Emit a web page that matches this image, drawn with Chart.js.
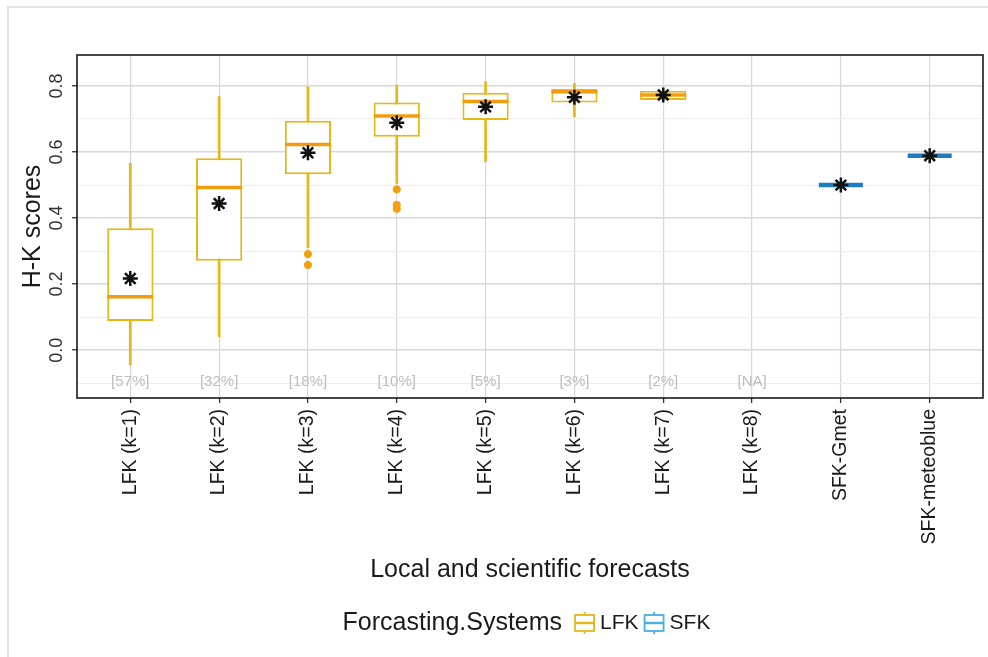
<!DOCTYPE html>
<html>
<head>
<meta charset="utf-8">
<title>H-K scores</title>
<script src="https://cdn.jsdelivr.net/npm/chart.js@4.4.1/dist/chart.umd.min.js"></script>
<style>
  html, body { margin: 0; padding: 0; background: #fff; }
  #wrap { position: relative; width: 988px; height: 657px; }
  #frame { position: absolute; left: 7px; top: 6px; right: 0; bottom: 0;
           border-left: 2px solid #e3e3e3; border-top: 2px solid #e3e3e3; pointer-events: none; }
  canvas { position: absolute; left: 0; top: 0; }
</style>
</head>
<body>
<div id="wrap">
  <canvas id="chart" width="988" height="657"></canvas>
  <div id="frame"></div>
</div>
<script>
const categories = ['LFK (k=1)', 'LFK (k=2)', 'LFK (k=3)', 'LFK (k=4)', 'LFK (k=5)',
                    'LFK (k=6)', 'LFK (k=7)', 'LFK (k=8)', 'SFK-Gmet', 'SFK-meteoblue'];
const systems = ['LFK', 'LFK', 'LFK', 'LFK', 'LFK', 'LFK', 'LFK', 'LFK', 'SFK', 'SFK'];

// boxplot stats per forecast (null = no data)
const whiskerLow  = [-0.045, 0.040, 0.310, 0.505, 0.571, 0.707, 0.758, null, 0.500, 0.589];
const q1          = [ 0.088, 0.271, 0.533, 0.646, 0.697, 0.750, 0.758, null, 0.500, 0.589];
const median      = [ 0.162, 0.493, 0.623, 0.709, 0.753, 0.783, 0.773, null, 0.500, 0.589];
const q3          = [ 0.369, 0.581, 0.695, 0.750, 0.780, 0.791, 0.786, null, 0.500, 0.589];
const whiskerHigh = [ 0.566, 0.768, 0.798, 0.803, 0.813, 0.808, 0.786, null, 0.500, 0.589];
const meanScore   = [ 0.217, 0.444, 0.598, 0.689, 0.737, 0.766, 0.773, null, 0.500, 0.589];

const outlierIndex = [2, 2, 3, 3, 3];
const outlierScore = [0.291, 0.258, 0.487, 0.440, 0.428];

const shareLabels = ['[57%]', '[32%]', '[18%]', '[10%]', '[5%]', '[3%]', '[2%]', '[NA]', '', ''];
const shareLevel = -0.095;

const yMajor = [0, 0.2, 0.4, 0.6, 0.8];
const yMinor = [-0.1, 0.1, 0.3, 0.5, 0.7];
const yTickLabels = ['0.0', '0.2', '0.4', '0.6', '0.8'];

const colors = {
  LFK: { box: '#E7B718', median: '#F39C0C', point: '#F2A00E' },
  SFK: { box: '#49AEE0', median: '#1C7CBD', point: '#1C7CBD' }
};
const FONT = 'Liberation Sans, Arial, Helvetica, sans-serif';

function rows(fn) {
  const out = [];
  categories.forEach((c, i) => {
    if (median[i] !== null) out.push(fn(i));
  });
  return out;
}
const sysOf = i => colors[systems[i]];

const whiskerData = rows(i => ({ x: i, y: [whiskerLow[i], whiskerHigh[i]] }));
const boxData = rows(i => ({ x: i, y: [q1[i], q3[i]] }));
const medianData = rows(i => ({ x: i, y: median[i] }));
const meanData = rows(i => ({ x: i, y: meanScore[i] }));
const okIdx = rows(i => i);
const outlierData = outlierIndex.map((c, k) => ({ x: c, y: outlierScore[k] }));

// y tick labels, share labels, panel border and legend
const extras = {
  id: 'extras',
  afterDatasetsDraw(chart) {
    const { ctx, scales } = chart;
    ctx.save();
    ctx.font = '15px ' + FONT;
    ctx.fillStyle = '#bdbdbd';
    ctx.textAlign = 'center';
    ctx.textBaseline = 'middle';
    shareLabels.forEach((t, i) => {
      if (t) ctx.fillText(t, scales.x.getPixelForValue(i), scales.y.getPixelForValue(shareLevel));
    });
    ctx.restore();
  },
  afterDraw(chart) {
    const { ctx, chartArea, scales } = chart;
    ctx.save();
    ctx.strokeStyle = '#1a1a1a';
    ctx.lineWidth = 1.6;
    ctx.strokeRect(chartArea.left, chartArea.top, chartArea.right - chartArea.left, chartArea.bottom - chartArea.top);

    ctx.fillStyle = '#333';
    ctx.font = '18px ' + FONT;
    ctx.textAlign = 'center';
    ctx.textBaseline = 'alphabetic';
    yMajor.forEach((v, k) => {
      ctx.save();
      ctx.translate(chartArea.left - 15, scales.y.getPixelForValue(v));
      ctx.rotate(-Math.PI / 2);
      ctx.fillText(yTickLabels[k], 0, 0);
      ctx.restore();
    });

    // legend
    const cy = 623;
    ctx.textBaseline = 'middle';
    ctx.textAlign = 'left';
    ctx.fillStyle = '#1a1a1a';
    const title = 'Forcasting.Systems';
    ctx.font = '25px ' + FONT;
    const tw = ctx.measureText(title).width;
    ctx.font = '21px ' + FONT;
    const names = ['LFK', 'SFK'];
    const nw = names.map(n => ctx.measureText(n).width);
    const keyW = 19, gap = 6;
    const total = tw + 12 + (keyW + gap) * 2 + nw[0] + gap + nw[1];
    let x = (chartArea.left + chartArea.right) / 2 - total / 2 - 4;
    ctx.font = '25px ' + FONT;
    ctx.fillText(title, x, cy);
    x += tw + 13;
    ctx.font = '21px ' + FONT;
    names.forEach((n, k) => {
      const c = colors[n];
      ctx.strokeStyle = c.box;
      ctx.lineWidth = 1.8;
      ctx.beginPath();
      ctx.moveTo(x + keyW / 2, cy - 11); ctx.lineTo(x + keyW / 2, cy - 8);
      ctx.moveTo(x + keyW / 2, cy + 8); ctx.lineTo(x + keyW / 2, cy + 11);
      ctx.stroke();
      ctx.fillStyle = '#fff';
      ctx.fillRect(x, cy - 8, keyW, 16);
      ctx.strokeRect(x, cy - 8, keyW, 16);
      ctx.lineWidth = 2.4;
      ctx.beginPath();
      ctx.moveTo(x, cy); ctx.lineTo(x + keyW, cy);
      ctx.stroke();
      ctx.fillStyle = '#1a1a1a';
      ctx.fillText(n, x + keyW + gap, cy);
      x += keyW + gap + nw[k] + gap;
    });
    ctx.restore();
  }
};

new Chart(document.getElementById('chart'), {
  type: 'bar',
  data: {
    datasets: [
      {
        label: 'whiskers',
        data: whiskerData,
        backgroundColor: okIdx.map(i => sysOf(i).box),
        borderWidth: 0,
        barThickness: 2,
        grouped: false,
        order: 5
      },
      {
        label: 'boxes',
        data: boxData,
        backgroundColor: '#ffffff',
        borderColor: okIdx.map(i => sysOf(i).box),
        borderWidth: 2,
        borderSkipped: false,
        barPercentage: 0.52,
        categoryPercentage: 1,
        grouped: false,
        order: 4
      },
      {
        type: 'line',
        label: 'median',
        data: medianData,
        showLine: false,
        pointStyle: 'line',
        pointRadius: okIdx.map(i => systems[i] === 'SFK' ? 22 : 23),
        pointBorderWidth: okIdx.map(i => systems[i] === 'SFK' ? 4.5 : 3.5),
        pointBorderColor: okIdx.map(i => sysOf(i).median),
        order: 3
      },
      {
        type: 'line',
        label: 'outliers',
        data: outlierData,
        showLine: false,
        pointStyle: 'circle',
        pointRadius: 3.6,
        pointBackgroundColor: colors.LFK.point,
        pointBorderColor: colors.LFK.point,
        pointBorderWidth: 1,
        order: 2
      },
      {
        type: 'line',
        label: 'mean',
        data: meanData,
        showLine: false,
        pointStyle: 'star',
        pointRadius: 7.5,
        pointBorderWidth: 2.5,
        pointBorderColor: '#111',
        pointBackgroundColor: '#111',
        order: 1
      }
    ]
  },
  options: {
    responsive: false,
    animation: false,
    events: [],
    layout: { autoPadding: false, padding: { left: 0, top: 55, right: 5, bottom: 69 } },
    plugins: { legend: { display: false }, tooltip: { enabled: false } },
    scales: {
      x: {
        type: 'linear',
        offset: false,
        min: -0.6,
        max: categories.length - 1 + 0.6,
        afterBuildTicks: s => { s.ticks = categories.map((c, i) => ({ value: i })); },
        afterFit: s => { s.height = 190; s.paddingLeft = 0; s.paddingRight = 0; },
        ticks: {
          autoSkip: false,
          minRotation: 90,
          maxRotation: 90,
          padding: 6,
          color: '#1a1a1a',
          font: { family: FONT, size: 19.5 },
          callback: v => categories[v]
        },
        grid: { offset: false, color: '#dcd6d6', lineWidth: 1.2, tickLength: 5, tickColor: '#333', tickWidth: 1.3 },
        border: { display: false },
        title: {
          display: true,
          text: 'Local and scientific forecasts',
          color: '#1a1a1a',
          font: { family: FONT, size: 25 },
          padding: { top: 0, bottom: 3 }
        }
      },
      y: {
        type: 'linear',
        min: -0.145,
        max: 0.894,
        afterBuildTicks: s => {
          s.ticks = yMinor.concat(yMajor).sort((a, b) => a - b).map(v => ({ value: v }));
        },
        afterFit: s => { s.width = 77; },
        ticks: { display: false },
        grid: {
          color: c => yMajor.includes(c.tick.value) ? '#d8d8d8' : '#eeeeee',
          lineWidth: c => yMajor.includes(c.tick.value) ? 1.5 : 1.1,
          tickLength: 5,
          tickColor: c => yMajor.includes(c.tick.value) ? '#333' : 'rgba(0,0,0,0)',
          tickWidth: 1.3
        },
        border: { display: false },
        title: {
          display: true,
          text: 'H-K scores',
          color: '#1a1a1a',
          font: { family: FONT, size: 25 },
          padding: { top: 18, bottom: 0 }
        }
      }
    }
  },
  plugins: [extras]
});
</script>
</body>
</html>
